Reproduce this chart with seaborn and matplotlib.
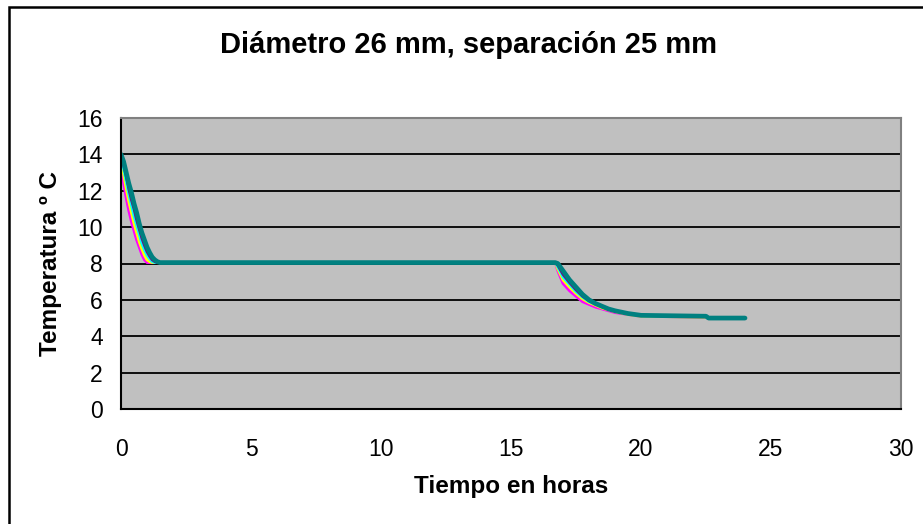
import matplotlib
matplotlib.use("Agg")
import matplotlib.pyplot as plt
from matplotlib.patches import Rectangle
import pandas as pd
import seaborn as sns

# Time in hours (shared by all series)
horas = [0.0, 0.1, 0.2, 0.3, 0.4, 0.5, 0.6, 0.7, 0.8, 0.9, 1.0, 1.1, 1.2, 1.3, 1.4, 1.5, 1.6,
         16.7, 16.8, 17.0, 17.25, 17.5, 17.75, 18.0, 18.25, 18.5, 18.75, 19.0, 19.5, 20.0,
         22.5, 22.6, 24.0]

# Temperature (ºC) for each measuring point
serie_1 = [13.7, 12.4, 11.6, 10.9, 10.3, 9.8, 9.3, 8.9, 8.5, 8.2, 8.05, 8.05, 8.05, 8.05, 8.05, 8.05, 8.05,
           8.05, 7.6, 6.9, 6.5, 6.2, 5.9, 5.75, 5.6, 5.5, 5.4, 5.3, 5.2, 5.1,
           5.05, 5.0, 5.0]
serie_2 = [13.9, 12.9, 12.1, 11.4, 10.8, 10.2, 9.7, 9.2, 8.8, 8.45, 8.2, 8.1, 8.05, 8.05, 8.05, 8.05, 8.05,
           8.05, 7.7, 7.1, 6.7, 6.35, 6.05, 5.85, 5.7, 5.55, 5.45, 5.35, 5.2, 5.1,
           5.05, 5.0, 5.0]
serie_3 = [14.0, 13.2, 12.5, 11.8, 11.2, 10.6, 10.1, 9.6, 9.1, 8.75, 8.45, 8.25, 8.1, 8.05, 8.05, 8.05, 8.05,
           8.05, 7.8, 7.25, 6.85, 6.45, 6.15, 5.9, 5.75, 5.6, 5.5, 5.4, 5.22, 5.12,
           5.08, 5.0, 5.0]
serie_4 = [14.0, 13.4, 12.8, 12.1, 11.5, 11.0, 10.4, 9.9, 9.4, 9.0, 8.65, 8.4, 8.2, 8.1, 8.05, 8.05, 8.05,
           8.05, 7.9, 7.4, 6.95, 6.55, 6.2, 5.95, 5.78, 5.62, 5.5, 5.4, 5.24, 5.14,
           5.1, 5.0, 5.0]
serie_5 = [14.0, 13.6, 13.0, 12.4, 11.9, 11.3, 10.8, 10.2, 9.7, 9.3, 8.9, 8.6, 8.35, 8.2, 8.1, 8.05, 8.05,
           8.05, 8.0, 7.6, 7.1, 6.7, 6.3, 6.0, 5.8, 5.65, 5.5, 5.4, 5.25, 5.15,
           5.1, 5.0, 5.0]

series = {"Serie1": serie_1, "Serie2": serie_2, "Serie3": serie_3,
          "Serie4": serie_4, "Serie5": serie_5}
colores = {"Serie1": "#FF00FF", "Serie2": "#FFFF00", "Serie3": "#00FFFF",
           "Serie4": "#800080", "Serie5": "#008080"}
grosores = {"Serie1": 2.0, "Serie2": 2.0, "Serie3": 2.0, "Serie4": 2.0, "Serie5": 3.4}

x_ticks = [0, 5, 10, 15, 20, 25, 30]
y_ticks = [0, 2, 4, 6, 8, 10, 12, 14, 16]

df = pd.concat(
    [pd.DataFrame({"horas": horas, "temp": v, "serie": k}) for k, v in series.items()],
    ignore_index=True,
)

sns.set_style("white")
plt.rcParams["font.family"] = ["Liberation Sans", "DejaVu Sans"]
plt.rcParams["text.color"] = "black"
plt.rcParams["axes.labelcolor"] = "black"

fig = plt.figure(figsize=(9.23, 5.24), dpi=100)
ax = fig.add_axes([121 / 923, 1 - 409 / 524, 780 / 923, 291 / 524])

for nombre in series:
    sns.lineplot(data=df[df["serie"] == nombre], x="horas", y="temp", color=colores[nombre],
                 linewidth=grosores[nombre], ax=ax, legend=False, sort=False)

ax.set_facecolor("#C0C0C0")
ax.set_xlim(0, 30)
ax.set_ylim(0, 16)
ax.set_xticks(x_ticks)
ax.set_yticks(y_ticks)
ax.yaxis.grid(True, color="black", linewidth=1.3)
ax.xaxis.grid(False)
ax.set_axisbelow(True)

for lado in ("left", "bottom"):
    ax.spines[lado].set_color("black")
    ax.spines[lado].set_linewidth(1.5)
for lado in ("top", "right"):
    ax.spines[lado].set_color("#808080")
    ax.spines[lado].set_linewidth(1.5)

ax.tick_params(axis="both", direction="out", length=7, width=1.3, color="black",
               labelsize=16.5, labelcolor="black")
ax.tick_params(axis="x", pad=14)
ax.tick_params(axis="y", pad=6)

ax.set_xlabel("Tiempo en horas", fontsize=17.5, fontweight="bold", labelpad=10, color="black")
ax.set_ylabel("Temperatura º C", fontsize=17.5, fontweight="bold", labelpad=11, color="black")

fig.text(469 / 923, 1 - 45 / 524, "Diámetro 26 mm, separación 25 mm",
         ha="center", va="center", fontsize=21, fontweight="bold", color="black")

# Chart frame
fig.patches.append(Rectangle((9 / 923, -0.05), 1.2, 1 - 7 / 524 + 0.05, transform=fig.transFigure,
                             fill=False, edgecolor="black", linewidth=1.8, clip_on=False))

fig.savefig("out.png", dpi=100, facecolor="white")
